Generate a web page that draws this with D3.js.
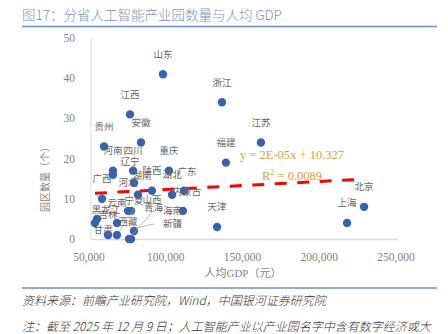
<!DOCTYPE html>
<html>
<head>
<meta charset="utf-8">
<script src="https://cdn.jsdelivr.net/npm/d3@7"></script>
<style>
  body { margin: 0; background: #fff; }
  svg { display: block; }
</style>
</head>
<body>
<svg id="canvas" width="448" height="334"></svg>
<script>
// data
let provinces = ['山东','浙江','江西','安徽','贵州','江苏','福建','北京','上海','天津',
  '河南','河北','四川','辽宁','湖南','陕西','湖北','广东','重庆','内蒙古',
  '广西','山西','宁夏','云南','黑龙江','甘肃','吉林','青海','海南','西藏','新疆']
let gdpPerCapita = [96900,135300,75400,82600,58500,160700,137900,227900,216800,132100,
  64300,64300,77400,78000,80600,89700,102800,110600,100800,109900,
  57200,74100,76100,66900,53900,52600,61100,66900,74800,76100,78000]
let parkCount = [41,34,31,24,23,24,19,8,4,3,
  17,16,17,14,11,12,11,12,17,7,
  10,7,7,4,5,4,1,1,0,0,2]
let yTicks = [0,10,20,30,40,50]
let xTicks = [50000,100000,150000,200000,250000]
let trendSlope = 2e-5
let trendIntercept = 10.327
let trendLabel = 'y = 2E-05x + 10.327'
let r2Label = '0.0089'

// label placement (pixels, relative to the dot), the default is above
let labelShift = {
  '辽宁': [-4,-21], '湖南': [4,-19], '河北': [15,8], '广东': [3,-19], '内蒙古': [4,-19],
  '山西': [24,-11], '宁夏': [3,-10], '黑龙江': [9,-9], '甘肃': [8,7],
  '西藏': [-3,-18], '青海': [27,-27], '海南': [34,-29], '新疆': [29,-7]
}
let leaders = ['海南','新疆','青海']

let canvas = d3.select('#canvas')
let serif = '"Liberation Serif", "Noto Sans CJK SC", serif'
let cjk = '"Noto Sans CJK SC", sans-serif'

let xScale = d3.scaleLinear().domain([50000,250000]).range([91,398])
let yScale = d3.scaleLinear().domain([0,50]).range([239,38])

// title
canvas.append('text')
  .attr('x',22).attr('y',20)
  .attr('font-family',cjk).attr('font-size',13.5).attr('font-weight',300)
  .attr('fill','#7a90c2')
  .text('图17：分省人工智能产业园数量与人均 GDP')
canvas.append('line')
  .attr('x1',22).attr('x2',437).attr('y1',26.5).attr('y2',26.5)
  .attr('stroke','#6b8cc8').attr('stroke-width',1.5)

// axes
canvas.append('line')
  .attr('x1',xScale(50000)).attr('x2',xScale(50000))
  .attr('y1',yScale(50)).attr('y2',yScale(0))
  .attr('stroke','#d9d9d9')
canvas.append('line')
  .attr('x1',xScale(50000)).attr('x2',xScale(250000))
  .attr('y1',yScale(0)+0.5).attr('y2',yScale(0)+0.5)
  .attr('stroke','#d9d9d9').attr('stroke-width',1.5)

canvas.selectAll('.ytick')
  .data(yTicks)
  .enter()
  .append('text')
  .attr('class','ytick')
  .attr('x',75)
  .attr('y',(d)=>yScale(d)+4)
  .attr('text-anchor','end')
  .attr('font-family',serif).attr('font-size',11.5).attr('fill','#7f7f7f')
  .text((d)=>d)

canvas.selectAll('.xtick')
  .data(xTicks)
  .enter()
  .append('text')
  .attr('class','xtick')
  .attr('x',(d)=>xScale(d)-2)
  .attr('y',261)
  .attr('text-anchor','middle')
  .attr('font-family',serif).attr('font-size',11.5).attr('fill','#7f7f7f')
  .text((d)=>d3.format(',')(d))

canvas.append('text')
  .attr('x',243).attr('y',277)
  .attr('text-anchor','middle')
  .attr('font-family',serif).attr('font-size',11).attr('fill','#7f7f7f')
  .text('人均GDP（元）')

canvas.append('text')
  .attr('transform','translate(49,177) rotate(-90)')
  .attr('text-anchor','middle')
  .attr('font-family',cjk).attr('font-size',10).attr('fill','#7f7f7f')
  .text('园区数量（个）')

// trend line
let xMin = d3.min(gdpPerCapita)
let xMax = d3.max(gdpPerCapita)
canvas.append('line')
  .attr('x1',xScale(xMin)).attr('y1',yScale(trendIntercept + trendSlope*xMin))
  .attr('x2',xScale(xMax)).attr('y2',yScale(trendIntercept + trendSlope*xMax))
  .attr('stroke','#ff0000').attr('stroke-width',3)
  .attr('stroke-dasharray','12,10.5')

// dots
let points = provinces.map((name,i)=>{
  return {name: name, x: gdpPerCapita[i], y: parkCount[i]}
})

canvas.selectAll('circle')
  .data(points)
  .enter()
  .append('circle')
  .attr('cx',(p)=>xScale(p.x))
  .attr('cy',(p)=>yScale(p.y))
  .attr('r',4.2)
  .attr('fill','#3762b0')

// leader lines for the labels pushed aside
canvas.selectAll('.leader')
  .data(points.filter((p)=>leaders.includes(p.name)))
  .enter()
  .append('line')
  .attr('class','leader')
  .attr('x1',(p)=>xScale(p.x)+2)
  .attr('y1',(p)=>yScale(p.y)-3)
  .attr('x2',(p)=>xScale(p.x)+labelShift[p.name][0]-9)
  .attr('y2',(p)=>yScale(p.y)+labelShift[p.name][1])
  .attr('stroke','#a6a6a6').attr('stroke-width',0.8)

canvas.selectAll('.label')
  .data(points)
  .enter()
  .append('text')
  .attr('class','label')
  .attr('x',(p)=>xScale(p.x)+(labelShift[p.name]||[0,-20])[0])
  .attr('y',(p)=>yScale(p.y)+(labelShift[p.name]||[0,-20])[1]+3.5)
  .attr('text-anchor',(p)=>leaders.includes(p.name)?'start':'middle')
  .attr('font-family',cjk).attr('font-size',9.5).attr('fill','#666')
  .text((p)=>p.name)

// trend equation
canvas.append('text')
  .attr('x',292).attr('y',159)
  .attr('text-anchor','middle')
  .attr('font-family',serif).attr('font-size',12.5).attr('fill','#d4a040')
  .text(trendLabel)
let r2 = canvas.append('text')
  .attr('x',292).attr('y',180)
  .attr('text-anchor','middle')
  .attr('font-family',serif).attr('font-size',12.5).attr('fill','#d4a040')
r2.append('tspan').text('R')
r2.append('tspan').attr('dy',-5).attr('font-size',8).text('2')
r2.append('tspan').attr('dy',5).text(' = ' + r2Label)

// footer
canvas.append('line')
  .attr('x1',22).attr('x2',437).attr('y1',288).attr('y2',288)
  .attr('stroke','#6b8cc8').attr('stroke-width',1.5)
canvas.append('text')
  .attr('x',22).attr('y',305)
  .attr('font-family',cjk).attr('font-size',12).attr('font-style','italic')
  .attr('font-weight',300).attr('fill','#333')
  .text('资料来源：前瞻产业研究院，Wind，中国银河证券研究院')
canvas.append('text')
  .attr('x',22).attr('y',331)
  .attr('font-family',cjk).attr('font-size',12).attr('font-style','italic')
  .attr('font-weight',300).attr('fill','#333')
  .text('注：截至 2025 年 12 月 9 日；人工智能产业以产业园名字中含有数字经济或大')
</script>
</body>
</html>
